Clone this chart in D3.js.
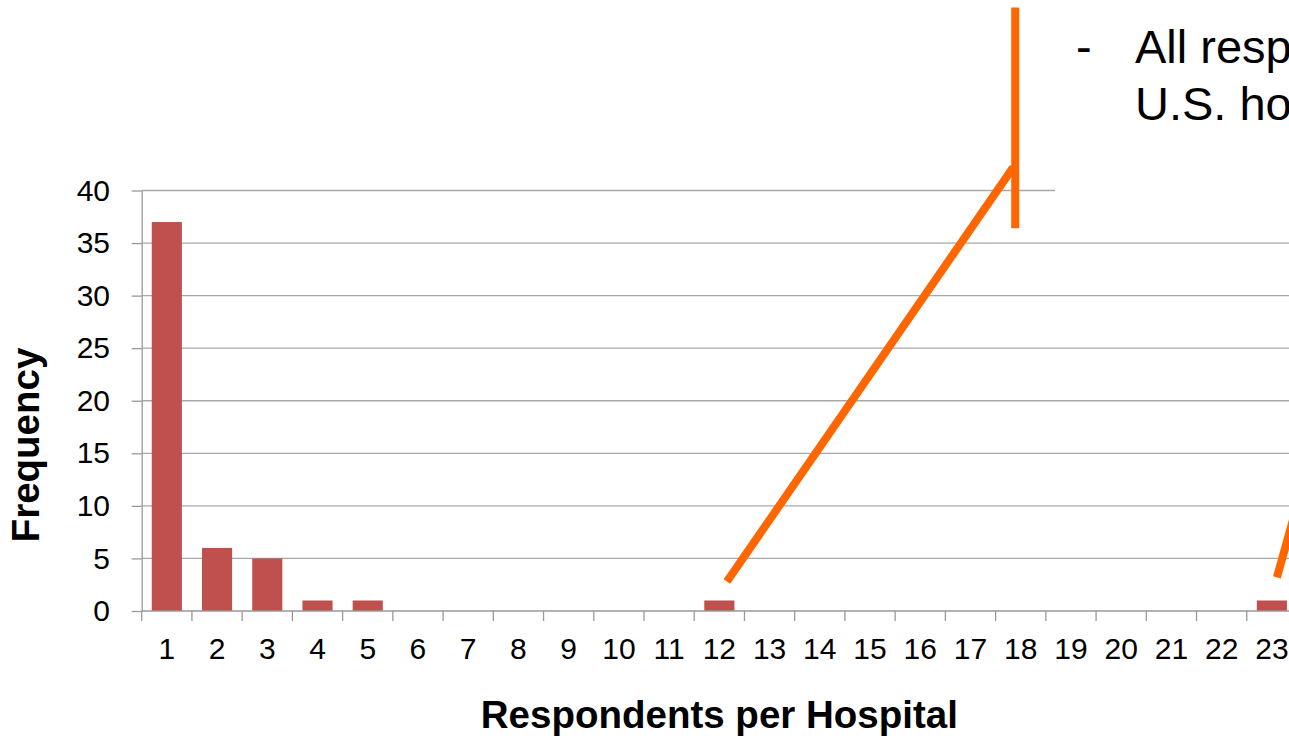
<!DOCTYPE html>
<html>
<head>
<meta charset="utf-8">
<script src="https://cdn.jsdelivr.net/npm/d3@7"></script>
<style>
  html, body { margin: 0; padding: 0; background: #fff; overflow: hidden; }
  svg { display: block; font-family: Arial, "Liberation Sans", sans-serif; }
</style>
</head>
<body>
<svg id="chart" width="1289" height="736"></svg>
<script>
// Respondents per hospital (1..23) and how many hospitals had that count
const categories = d3.range(1, 24).map(String);
const frequency = [37, 6, 5, 1, 1, 0, 0, 0, 0, 0, 0, 1, 0, 0, 0, 0, 0, 0, 0, 0, 0, 0, 1];
const yTicks = [0, 5, 10, 15, 20, 25, 30, 35, 40];
const noteLines = ["All respondents from", "U.S. hospitals"];

const svg = d3.select("#chart");
const W = 1289, H = 736;
svg.append("rect").attr("width", W).attr("height", H).attr("fill", "#fff");

const plot = { left: 141.7, right: 1297, top: 190.5, bottom: 611 };

const x = d3.scaleBand()
  .domain(categories)
  .range([plot.left, plot.right])
  .paddingInner(0.4)
  .paddingOuter(0.2);

const y = d3.scaleLinear().domain([0, 40]).range([plot.bottom, plot.top]);

const gridColor = "#a8a8a8";
const axisColor = "#999999";

// horizontal gridlines
svg.append("g")
  .selectAll("line")
  .data(yTicks.filter(d => d > 0))
  .join("line")
  .attr("x1", plot.left).attr("x2", W + 20)
  .attr("y1", d => y(d)).attr("y2", d => y(d))
  .attr("stroke", gridColor).attr("stroke-width", 1.3);

// bars
svg.append("g")
  .selectAll("rect")
  .data(categories.map((c, i) => ({ c, v: frequency[i] })).filter(d => d.v > 0))
  .join("rect")
  .attr("x", d => x(d.c))
  .attr("width", x.bandwidth())
  .attr("y", d => y(d.v))
  .attr("height", d => y(0) - y(d.v))
  .attr("fill", "#c0504d");

// y axis
const yAxis = svg.append("g")
  .attr("transform", `translate(${plot.left},0)`)
  .call(d3.axisLeft(y).tickValues(yTicks).tickSize(10).tickPadding(21.7).tickSizeOuter(0));
yAxis.select(".domain").attr("stroke", axisColor).attr("stroke-width", 1.3);
yAxis.selectAll(".tick line").attr("stroke", axisColor).attr("stroke-width", 1.3);
yAxis.selectAll(".tick text").attr("font-size", 30).attr("fill", "#000")
  .attr("font-family", "Arial, 'Liberation Sans', sans-serif");

// x axis: labels centred in each band, tick marks on band boundaries
const xAxis = svg.append("g")
  .attr("transform", `translate(0,${plot.bottom})`)
  .call(d3.axisBottom(x).tickSize(0).tickPadding(27).tickSizeOuter(0));
xAxis.select(".domain").remove();
xAxis.selectAll(".tick text").attr("font-size", 30).attr("fill", "#000")
  .attr("font-family", "Arial, 'Liberation Sans', sans-serif");

svg.append("line")
  .attr("x1", plot.left).attr("x2", W + 20)
  .attr("y1", y(0)).attr("y2", y(0))
  .attr("stroke", axisColor).attr("stroke-width", 1.3);

const outer = x.step() * x.paddingOuter();
svg.append("g")
  .selectAll("line")
  .data(categories)
  .join("line")
  .attr("x1", d => x(d) - outer).attr("x2", d => x(d) - outer)
  .attr("y1", y(0)).attr("y2", y(0) + 10)
  .attr("stroke", axisColor).attr("stroke-width", 1.3);

// axis titles
svg.append("text")
  .attr("x", (plot.left + plot.right) / 2)
  .attr("y", 728)
  .attr("text-anchor", "middle")
  .attr("font-size", 38.5).attr("font-weight", "bold")
  .text("Respondents per Hospital");

svg.append("text")
  .attr("transform", "translate(39,445) rotate(-90)")
  .attr("text-anchor", "middle")
  .attr("font-size", 38.5).attr("font-weight", "bold")
  .text("Frequency");

// callout text box (its white fill hides the top gridline behind it)
svg.append("rect")
  .attr("x", 1055).attr("y", 0)
  .attr("width", W).attr("height", 210)
  .attr("fill", "#fff");

svg.append("text")
  .attr("x", 1076).attr("y", 63)
  .attr("font-size", 47)
  .text("-");

svg.append("g")
  .selectAll("text")
  .data(noteLines)
  .join("text")
  .attr("x", 1135)
  .attr("y", (d, i) => 63 + i * 57)
  .attr("font-size", 47)
  .text(d => d);

// orange callout leaders, anchored to the bars they point at
const at = (cat, frac) => x(cat) - outer + x.step() * frac;
const orange = "#ff6600";
const lead = svg.append("g")
  .attr("stroke", orange).attr("stroke-width", 8)
  .attr("fill", "none");

lead.append("line")
  .attr("x1", at("18", 0.39)).attr("x2", at("18", 0.39))
  .attr("y1", y(57.4)).attr("y2", y(36.4));

lead.append("line")
  .attr("x1", at("12", 0.65)).attr("y1", y(2.8))
  .attr("x2", at("18", 0.35)).attr("y2", y(42.2));

lead.append("line")
  .attr("x1", at("23", 0.6)).attr("y1", y(3.2))
  .attr("x2", at("23", 0.6) + 12.3 * 8).attr("y2", y(3.2) - 44 * 8);
</script>
</body>
</html>
